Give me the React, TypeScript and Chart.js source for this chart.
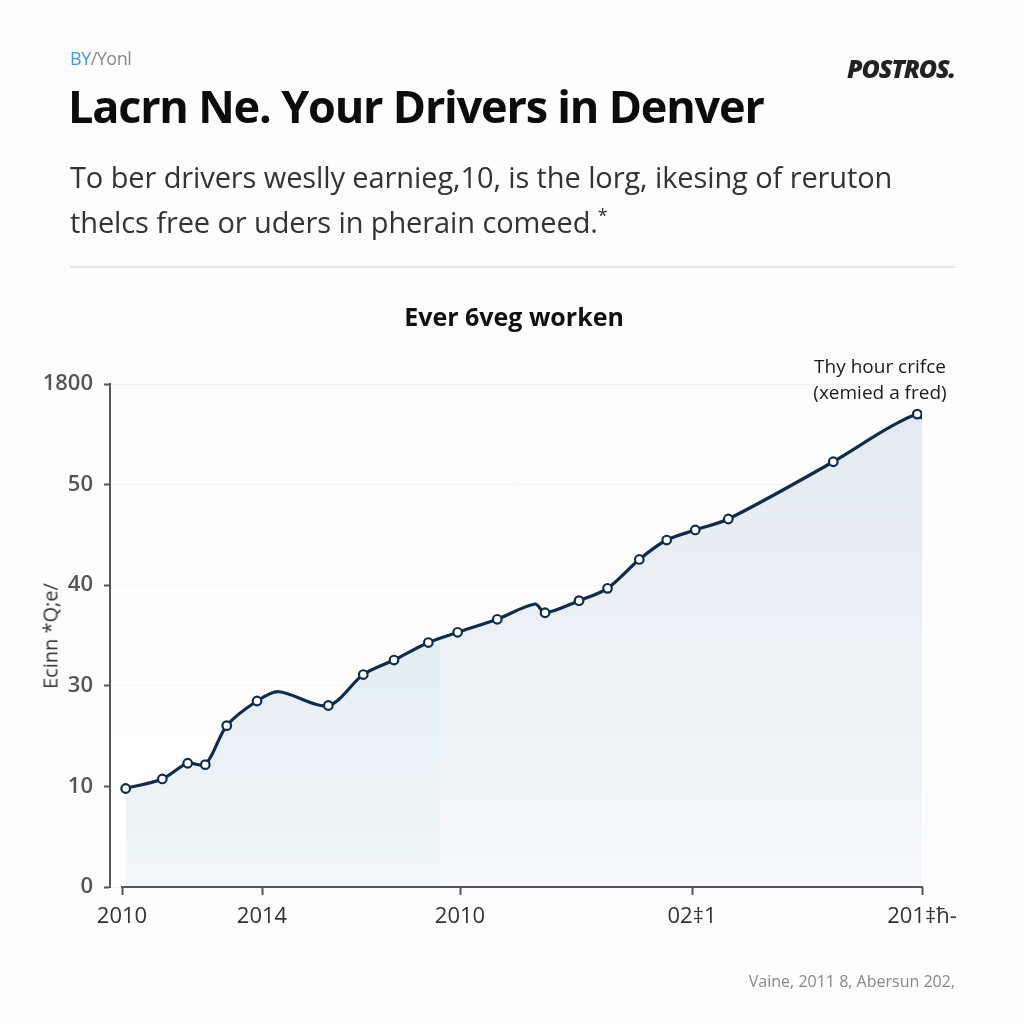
import React, { useEffect, useRef } from "react";
import { Chart, registerables } from "chart.js";

Chart.register(...registerables);

// ---- data ----
const xValues = [0.46, 5.04, 8.21, 10.41, 13.09, 16.88, 19.59, 25.79, 30.16, 34.0, 38.29, 41.96, 46.91, 51.63, 52.88, 57.13, 60.69, 64.66, 68.09, 71.66, 75.79, 88.91, 95.59, 99.41, 100.06];
const yValues = [0.979, 1.074, 1.23, 1.216, 1.604, 1.849, 1.941, 1.804, 2.112, 2.256, 2.43, 2.532, 2.661, 2.813, 2.726, 2.846, 2.969, 3.256, 3.449, 3.549, 3.658, 4.227, 4.553, 4.701, 4.657];
const hasMarker = [true, true, true, true, true, true, false, true, true, true, true, true, true, false, true, true, true, true, true, true, true, true, false, true, false];

const yTickLabels = ["0", "10", "30", "40", "50", "1800"];
const xTickPositions = [0, 17.5, 42.25, 71.25, 100];
const xTickLabels = ["2010", "2014", "2010", "02\u20211", "201\u2021\u045b-"];
const shadeSplitX = 39.75;

const LINE = "#0f2d4a";

export default function App() {
  const ref = useRef<HTMLCanvasElement | null>(null);

  useEffect(() => {
    if (!ref.current) return;
    const overlay = {
      id: "overlayAndAxis",
      beforeDatasetsDraw(chart: any) {
        const { ctx, chartArea } = chart;
        const g = ctx.createLinearGradient(0, chartArea.top, 0, chartArea.bottom);
        g.addColorStop(0, "rgba(255,255,255,0)");
        g.addColorStop(1, "rgba(255,255,255,0.7)");
        ctx.save();
        ctx.fillStyle = g;
        ctx.fillRect(chartArea.left + 2, chartArea.top, chartArea.right - chartArea.left, chartArea.bottom - chartArea.top);
        ctx.restore();
      },
      afterDraw(chart: any) {
        const { ctx, chartArea, scales } = chart;
        const x0 = scales.x.getPixelForValue(xTickPositions[0]);
        const x1 = scales.x.getPixelForValue(xTickPositions[xTickPositions.length - 1]);
        ctx.save();
        ctx.strokeStyle = "#555";
        ctx.lineWidth = 2;
        ctx.beginPath();
        ctx.moveTo(x0 - 1, chartArea.bottom);
        ctx.lineTo(x1 + 1, chartArea.bottom);
        ctx.stroke();
        ctx.restore();
      },
    };

    const chart = new Chart(ref.current, {
      type: "line",
      data: {
        datasets: [
          {
            data: xValues.map((x, i) => ({ x, y: yValues[i] })),
            borderColor: LINE,
            borderWidth: 3.2,
            tension: 0.3,
            fill: "origin",
            backgroundColor: (c: any) => {
              const chart = c.chart;
              const { ctx, chartArea, scales } = chart;
              if (!chartArea) return "rgba(220,232,240,1)";
              const split = scales.x.getPixelForValue(shadeSplitX);
              const t = Math.min(1, Math.max(0, (split - chartArea.left) / (chartArea.right - chartArea.left)));
              const g = ctx.createLinearGradient(chartArea.left, 0, chartArea.right, 0);
              g.addColorStop(0, "rgb(210,228,237)");
              g.addColorStop(t, "rgb(210,228,237)");
              g.addColorStop(t, "rgb(226,233,241)");
              g.addColorStop(1, "rgb(226,233,241)");
              return g;
            },
            pointRadius: hasMarker.map((m) => (m ? 4.3 : 0)),
            pointBackgroundColor: "#ffffff",
            pointBorderColor: LINE,
            pointBorderWidth: 2.2,
          },
        ],
      },
      options: {
        responsive: false,
        animation: false,
        events: [],
        layout: { padding: { left: 0, right: 102, top: 384, bottom: 87 } },
        plugins: {
          legend: { display: false },
          tooltip: { enabled: false },
          filler: { drawTime: "beforeDatasetsDraw" },
        } as any,
        scales: {
          x: {
            type: "linear",
            min: -1.5,
            max: 100,
            afterBuildTicks: (s: any) => {
              s.ticks = xTickPositions.map((v) => ({ value: v }));
            },
            afterFit: (s: any) => {
              s.height = 50;
            },
            border: { display: false },
            grid: { drawOnChartArea: false, drawTicks: true, tickLength: 8, tickColor: "#555", tickWidth: 2 },
            ticks: {
              autoSkip: false,
              maxRotation: 0,
              padding: 9,
              color: "#333",
              font: { family: "Open Sans", size: 22 },
              callback: (_v: any, i: number) => xTickLabels[i],
            },
          },
          y: {
            type: "linear",
            min: 0,
            max: 5,
            afterFit: (s: any) => {
              s.width = 110;
            },
            border: { display: true, color: "#555", width: 2 },
            grid: { color: "#f1f1f1", lineWidth: 1, tickLength: 6, tickColor: "#555", tickWidth: 2 },
            ticks: {
              stepSize: 1,
              padding: 11,
              color: "#555",
              font: { family: "Open Sans", size: 22, weight: "600" },
              callback: (v: any) => yTickLabels[Math.round(Number(v))],
            },
          },
        },
      },
      plugins: [overlay],
    } as any);
    return () => chart.destroy();
  }, []);

  const abs = (s: React.CSSProperties): React.CSSProperties => ({ position: "absolute", margin: 0, whiteSpace: "nowrap", ...s });

  return (
    <div style={{ position: "absolute", left: 0, top: 0, width: 1024, height: 1024, background: "#fcfcfc", fontFamily: "'Open Sans', sans-serif", overflow: "hidden" }}>
      <canvas ref={ref} width={1024} height={1024} style={{ position: "absolute", left: 0, top: 0, width: 1024, height: 1024 }} />
      <div style={abs({ left: 70, top: 46, fontSize: 18, color: "#888", letterSpacing: -0.5 })}>
        <span style={{ color: "#3b9be0" }}>BY</span>/Yonl
      </div>
      <div style={abs({ right: 69, top: 51, fontSize: 25, fontWeight: 800, fontStyle: "italic", color: "#222", letterSpacing: -1.2 })}>POSTROS.</div>
      <div style={abs({ left: 68, top: 75, fontSize: 45, fontWeight: 700, color: "#0c0c0c", letterSpacing: -1.2 })}>Lacrn Ne. Your Drivers in Denver</div>
      <div style={abs({ left: 70, top: 158, fontSize: 29, color: "#333", lineHeight: "38px", letterSpacing: -0.1 })}>
        To ber drivers weslly earnieg,10, is the lorg, ikesing of reruton
        <br />
        thelcs free or uders in pherain comeed.<sup style={{ fontSize: 18 }}>*</sup>
      </div>
      <div style={abs({ left: 70, top: 266, width: 885, height: 2, background: "#e6e6e6" })} />
      <div style={abs({ left: 0, width: 1028, top: 299, textAlign: "center", fontSize: 25, fontWeight: 700, color: "#111" })}>Ever 6veg worken</div>
      <div style={abs({ left: 800, width: 160, top: 353, textAlign: "center", fontSize: 19, color: "#1a1a1a", lineHeight: "26px" })}>
        Thy hour crifce
        <br />
        (xemied a fred)
      </div>
      <div style={abs({ left: 50, top: 636, transform: "translate(-50%, -50%) rotate(-90deg)", fontSize: 20, color: "#333" })}>Ecinn *Q;e/</div>
      <div style={abs({ right: 69, top: 970, fontSize: 16, color: "#888" })}>Vaine, 2011 8, Abersun 202,</div>
    </div>
  );
}
